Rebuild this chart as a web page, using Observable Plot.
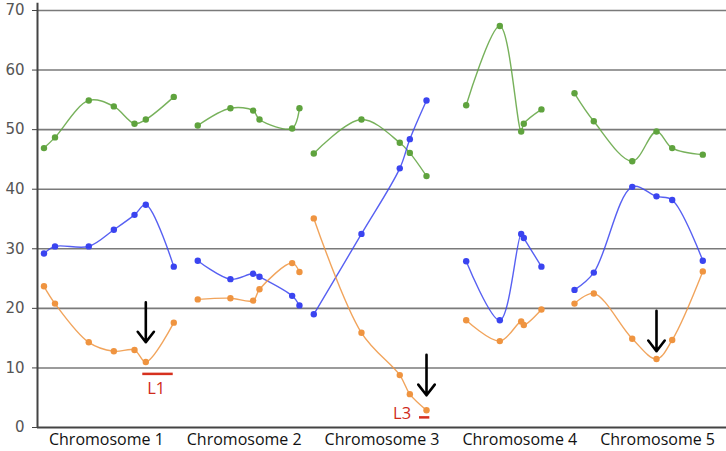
<!DOCTYPE html>
<html><head><meta charset="utf-8">
<script src="https://cdn.jsdelivr.net/npm/d3@7"></script>
<script src="https://cdn.jsdelivr.net/npm/@observablehq/plot@0.6"></script>
<style>body{margin:0;background:#fff}</style>
</head><body><div id="chart"></div>
<script>
// Chromosome names and centre positions on a 0–500 axis (100 units per chromosome)
const chromosomes = ["Chromosome 1", "Chromosome 2", "Chromosome 3", "Chromosome 4", "Chromosome 5"];
const chromCenters = [50, 150, 250, 350, 450];

// Marker positions per chromosome (same positions for each series)
const positions = [
  [4.7, 12.7, 37.2, 55.4, 70.4, 78.6, 98.9],
  [116.3, 140.0, 156.5, 161.1, 184.8, 190.1],
  [200.5, 235.1, 262.9, 270.2, 282.3],
  [311.1, 335.5, 351.0, 352.9, 365.7],
  [389.7, 403.7, 431.6, 449.2, 460.6, 482.8]
];

const seriesNames = ["Series A", "Series B", "Series C"];
const seriesColors = ["#5fa33e", "#3a44f0", "#ef9440"];

const seriesAValues = [
  [46.9, 48.7, 54.9, 53.9, 51.0, 51.7, 55.5],
  [50.7, 53.6, 53.2, 51.7, 50.2, 53.6],
  [46.0, 51.7, 47.8, 46.1, 42.2],
  [54.1, 67.4, 49.7, 51.0, 53.4],
  [56.1, 51.4, 44.7, 49.7, 46.9, 45.8]
];
const seriesBValues = [
  [29.2, 30.4, 30.4, 33.2, 35.7, 37.4, 27.0],
  [28.0, 24.9, 25.8, 25.3, 22.1, 20.5],
  [19.0, 32.5, 43.5, 48.4, 54.9],
  [27.9, 18.0, 32.5, 31.8, 27.0],
  [23.1, 26.0, 40.4, 38.8, 38.2, 28.0]
];
const seriesCValues = [
  [23.7, 20.8, 14.3, 12.8, 13.0, 11.0, 17.6],
  [21.5, 21.7, 21.3, 23.2, 27.6, 26.1],
  [35.1, 15.9, 8.8, 5.6, 2.9],
  [18.0, 14.5, 17.8, 17.2, 19.8],
  [20.8, 22.5, 14.9, 11.5, 14.7, 26.2]
];

// Annotations
const arrowX = [78.6, 282.3, 449.2];
const arrowTop = [21.0, 12.2, 19.6];
const arrowTip = [14.3, 5.4, 12.8];

const regionLabels = ["L1", "L3"];
const regionX1 = [76.4, 277.2];
const regionX2 = [98.5, 284.7];
const regionY = [9.0, 1.7];
const regionLabelX = [86.1, 264.6];
const regionLabelY = [6.5, 2.3];

const yTicks = [0, 10, 20, 30, 40, 50, 60, 70];

// Build tables
const allValues = [seriesAValues, seriesBValues, seriesCValues];
const rows = [];
seriesNames.forEach((s, si) => {
  positions.forEach((ps, ci) => {
    ps.forEach((p, pi) => rows.push({series: s, chrom: chromosomes[ci], x: p, y: allValues[si][ci][pi]}));
  });
});
const arrows = arrowX.map((x, i) => ({x, y1: arrowTop[i], y2: arrowTip[i]}));
const regions = regionLabels.map((label, i) => ({label, x1: regionX1[i], x2: regionX2[i], y: regionY[i], lx: regionLabelX[i], ly: regionLabelY[i]}));

const chart = Plot.plot({
  width: 726,
  height: 451,
  marginLeft: 37,
  marginRight: 0,
  marginTop: 10,
  marginBottom: 24,
  style: {fontFamily: "DejaVu Sans", fontSize: "13px", background: "#fff"},
  x: {domain: [0, 500]},
  y: {domain: [0, 70]},
  color: {domain: seriesNames, range: seriesColors},
  marks: [
    Plot.ruleY(yTicks.filter(t => t > 0), {stroke: "#7a7a7a", strokeWidth: 1.6}),
    Plot.axisY({ticks: yTicks, tickSize: 5, tickPadding: 8, stroke: "#444", fill: "#555", fontSize: 15, label: null}),
    Plot.axisX({ticks: chromCenters, tickFormat: (d, i) => chromosomes[i], tickSize: 0, tickPadding: 6, fill: "#111", fontFamily: "Open Sans", fontSize: 16, label: null}),
    Plot.line(rows, {x: "x", y: "y", z: d => d.series + d.chrom, stroke: "series", strokeWidth: 1.4, strokeOpacity: 0.85, curve: "catmull-rom"}),
    Plot.dot(rows, {x: "x", y: "y", fill: "series", r: 3.2}),
    Plot.ruleY([0], {stroke: "#444", strokeWidth: 2}),
    Plot.ruleX([0], {y1: 0, y2: 71.2, stroke: "#444", strokeWidth: 2}),
    Plot.arrow(arrows, {x1: "x", x2: "x", y1: "y1", y2: "y2", stroke: "#000", strokeWidth: 2.6, headLength: 14, headAngle: 75}),
    Plot.ruleY(regions, {x1: "x1", x2: "x2", y: "y", stroke: "#d6301e", strokeWidth: 2.5}),
    Plot.text(regions, {x: "lx", y: "ly", text: "label", fill: "#d02a1a", fontSize: 16.5, fontFamily: "Open Sans"})
  ]
});
document.getElementById("chart").append(chart);
</script></body></html>
